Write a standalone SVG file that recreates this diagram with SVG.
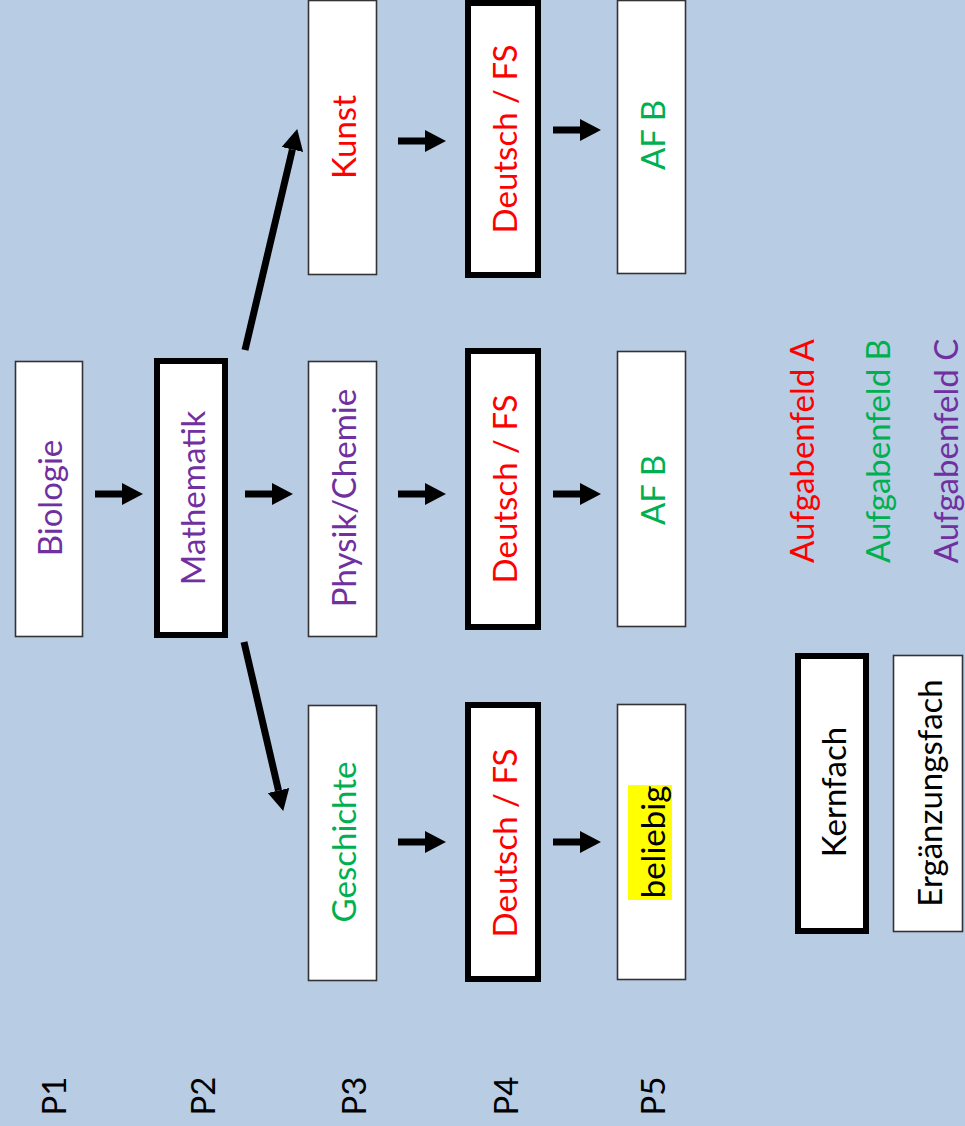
<svg xmlns="http://www.w3.org/2000/svg" width="965" height="1126" viewBox="0 0 965 1126">
<defs>
<style>
.thin{fill:#fff;stroke:#333;stroke-width:1.6}
.thick{fill:#fff;stroke:#000;stroke-width:6}
text{font-family:Lato,"Open Sans","Liberation Sans",sans-serif;font-size:33px;text-anchor:middle;dominant-baseline:central}
.r{fill:#ff0000}.g{fill:#00b050}.p{fill:#7030a0}.k{fill:#000}
.arr{stroke:#000;stroke-width:7;fill:none;marker-end:url(#ah)}
</style>
<marker id="ah" markerUnits="userSpaceOnUse" markerWidth="21" markerHeight="24" refX="0" refY="12" orient="auto" viewBox="0 0 21 24">
<path d="M0,1 L21,12 L0,23 z" fill="#000"/>
</marker>
</defs>
<rect width="965" height="1126" fill="#b8cce4"/>
<g id="p1-biologie"><rect class="thin" x="15.5" y="361.5" width="67" height="275"/><text class="p" transform="translate(49,498) rotate(-90)">Biologie</text></g>
<g id="p2-mathematik"><rect class="thick" x="157" y="361" width="68" height="274"/><text class="p" transform="translate(192,498) rotate(-90)">Mathematik</text></g>
<g id="p3-kunst"><rect class="thin" x="308.5" y="0.5" width="68" height="274"/><text class="r" transform="translate(343,137) rotate(-90)">Kunst</text></g>
<g id="p3-physik"><rect class="thin" x="308.5" y="361.5" width="68" height="275"/><text class="p" transform="translate(343,498) rotate(-90)">Physik/Chemie</text></g>
<g id="p3-geschichte"><rect class="thin" x="308.5" y="705.5" width="68" height="275"/><text class="g" transform="translate(343,842) rotate(-90)">Geschichte</text></g>
<g id="p4-deutsch-top"><rect class="thick" x="468" y="3" width="70" height="272"/><text class="r" transform="translate(504,139) rotate(-90)">Deutsch / FS</text></g>
<g id="p4-deutsch-mid"><rect class="thick" x="468" y="351" width="70" height="276"/><text class="r" transform="translate(504,489) rotate(-90)">Deutsch / FS</text></g>
<g id="p4-deutsch-bot"><rect class="thick" x="468" y="705" width="70" height="274"/><text class="r" transform="translate(504,843) rotate(-90)">Deutsch / FS</text></g>
<g id="p5-afb-top"><rect class="thin" x="617.5" y="0.5" width="68" height="273"/><text class="g" transform="translate(652,135) rotate(-90)">AF B</text></g>
<g id="p5-afb-mid"><rect class="thin" x="617.5" y="351.5" width="68" height="275"/><text class="g" transform="translate(652,490) rotate(-90)">AF B</text></g>
<g id="p5-beliebig"><rect class="thin" x="617.5" y="704.5" width="68" height="275"/><rect x="628" y="785" width="44" height="115" fill="#ffff00"/><text class="k" transform="translate(652,842) rotate(-90)">beliebig</text></g>
<g id="legend-kernfach"><rect class="thick" x="798" y="656" width="68" height="275"/><text class="k" transform="translate(833,792) rotate(-90)">Kernfach</text></g>
<g id="legend-ergaenzungsfach"><rect class="thin" x="893.5" y="655.5" width="69" height="276"/><text class="k" transform="translate(929,793) rotate(-90)">Ergänzungsfach</text></g>
<g id="legend-af"><text class="r" transform="translate(801,451) rotate(-90)">Aufgabenfeld A</text><text class="g" transform="translate(877,451) rotate(-90)">Aufgabenfeld B</text><text class="p" transform="translate(945,451) rotate(-90)">Aufgabenfeld C</text></g>
<g id="phase-labels"><text class="k" transform="translate(53,1096) rotate(-90)">P1</text><text class="k" transform="translate(202,1096) rotate(-90)">P2</text><text class="k" transform="translate(353,1096) rotate(-90)">P3</text><text class="k" transform="translate(505,1096) rotate(-90)">P4</text><text class="k" transform="translate(652,1096) rotate(-90)">P5</text></g>
<g id="connectors">
<line class="arr" x1="95" y1="494" x2="122" y2="494"/>
<line class="arr" x1="245" y1="494" x2="272" y2="494"/>
<line class="arr" x1="398" y1="494" x2="425" y2="494"/>
<line class="arr" x1="553" y1="494" x2="580" y2="494"/>
<line class="arr" x1="398" y1="141" x2="425" y2="141"/>
<line class="arr" x1="553" y1="130" x2="580" y2="130"/>
<line class="arr" x1="398" y1="842" x2="425" y2="842"/>
<line class="arr" x1="553" y1="842" x2="580" y2="842"/>
<line class="arr" x1="245" y1="350" x2="292.4" y2="149.5"/>
<line class="arr" x1="244" y1="642" x2="278.5" y2="790.5"/>
</g>
</svg>
